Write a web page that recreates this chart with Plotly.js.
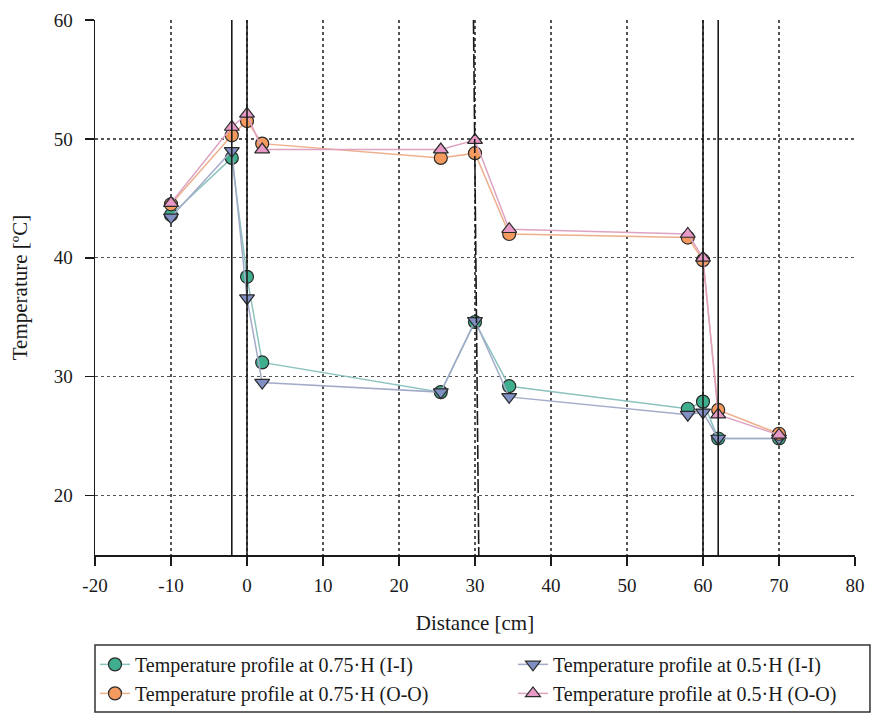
<!DOCTYPE html>
<html>
<head>
<meta charset="utf-8">
<script src="https://cdn.plot.ly/plotly-3.0.1.min.js"></script>
<style>
  html, body { margin: 0; padding: 0; background: #fff; }
  #chart { width: 873px; height: 727px; }
</style>
</head>
<body>
<div id="chart"></div>
<script>
// Measurement positions along the wall section [cm]
const distance = [-10, -2, 0, 2, 25.5, 30, 34.5, 58, 60, 62, 70];

// Temperatures [°C] at each position
const t075_II = [43.6, 48.4, 38.4, 31.2, 28.7, 34.6, 29.2, 27.3, 27.9, 24.8, 24.8];
const t05_II  = [43.4, 49.0, 36.6, 29.5, 28.7, 34.7, 28.3, 26.8, 27.0, 24.8, 24.8];
const t075_OO = [44.5, 50.3, 51.5, 49.6, 48.4, 48.8, 42.0, 41.7, 39.8, 27.2, 25.2];
const t05_OO  = [44.6, 51.0, 52.1, 49.1, 49.1, 49.9, 42.4, 42.0, 40.0, 26.8, 25.1];

const seriesNames = [
  'Temperature profile at 0.75·H (I-I)',
  'Temperature profile at 0.5·H (I-I)',
  'Temperature profile at 0.75·H (O-O)',
  'Temperature profile at 0.5·H (O-O)'
];

// Axis ticks (plain hyphen for negatives)
const xTickVals = [-20, -10, 0, 10, 20, 30, 40, 50, 60, 70, 80];
const xTickText = ['-20', '-10', '0', '10', '20', '30', '40', '50', '60', '70', '80'];
const yTickVals = [20, 30, 40, 50, 60];
const yTickText = ['20', '30', '40', '50', '60'];

// Layer boundaries drawn as solid verticals
const boundaries = [-2, 0, 60, 62];
// Slanted joint line near the middle of the section
const jointX = [29.8, 30.5];

const FONT = 'Liberation Serif';

function trace(y, name, symbol, fill, lineColor, legendId) {
  return {
    x: distance, y: y, name: name, type: 'scatter', mode: 'lines+markers',
    legend: legendId,
    line: { color: lineColor, width: 1.5 },
    marker: { symbol: symbol, size: 13, color: fill, line: { color: '#2a2a2a', width: 1.2 } }
  };
}

const data = [
  trace(t075_II, seriesNames[0], 'circle', '#3fae8e', '#8cc3bf', 'legend'),
  trace(t05_II, seriesNames[1], 'triangle-down', '#8090c4', '#a4abc9', 'legend2'),
  trace(t075_OO, seriesNames[2], 'circle', '#f59a5e', '#eeaf8c', 'legend'),
  trace(t05_OO, seriesNames[3], 'triangle-up', '#e79ac6', '#dea3c2', 'legend2')
];

const shapes = boundaries.map(b => ({
  type: 'line', xref: 'x', yref: 'paper', x0: b, x1: b, y0: 0, y1: 1,
  line: { color: '#1a1a1a', width: 1.6 }
}));
shapes.push({
  type: 'line', xref: 'x', yref: 'paper', x0: jointX[0], x1: jointX[1], y0: 1, y1: 0,
  line: { color: '#1a1a1a', width: 1.6, dash: '14px,3px' }
});
// Frame around the two legend columns
shapes.push({
  type: 'rect', xref: 'paper', yref: 'paper', x0: 0, x1: 1.0197, y0: -0.168, y1: -0.2935,
  line: { color: '#333', width: 1.5 }, fillcolor: 'rgba(0,0,0,0)'
});

const legendBase = {
  orientation: 'v', y: -0.168, xanchor: 'left', yanchor: 'top',
  font: { family: FONT, size: 20, color: '#1a1a1a' },
  bgcolor: 'rgba(0,0,0,0)', borderwidth: 0, tracegroupgap: 0
};

const layout = {
  width: 873, height: 727,
  margin: { l: 95, r: 18, t: 20, b: 172 },
  paper_bgcolor: '#fff', plot_bgcolor: '#fff',
  font: { family: FONT, size: 18, color: '#1a1a1a' },
  showlegend: true,
  legend: Object.assign({}, legendBase, { x: 0 }),
  legend2: Object.assign({}, legendBase, { x: 0.55 }),
  xaxis: {
    range: [-20, 80], tickmode: 'array', tickvals: xTickVals, ticktext: xTickText,
    showline: true, linecolor: '#1a1a1a', linewidth: 1.5,
    ticks: 'outside', ticklen: 9, tickcolor: '#1a1a1a', tickwidth: 1.5,
    ticklabelstandoff: 4,
    showgrid: true, gridcolor: '#555', griddash: 'dot', gridwidth: 1.3,
    zeroline: false,
    tickfont: { family: FONT, size: 19 },
    title: { text: 'Distance [cm]', font: { family: FONT, size: 21 }, standoff: 20 }
  },
  yaxis: {
    range: [15, 60], tickmode: 'array', tickvals: yTickVals, ticktext: yTickText,
    showline: true, linecolor: '#1a1a1a', linewidth: 1.5,
    ticks: 'outside', ticklen: 9, tickcolor: '#1a1a1a', tickwidth: 1.5,
    ticklabelstandoff: 8,
    showgrid: true, gridcolor: '#555', griddash: 'dot', gridwidth: 1.3,
    zeroline: false,
    tickfont: { family: FONT, size: 19 },
    title: { text: 'Temperature [ºC]', font: { family: FONT, size: 21 }, standoff: 20 }
  },
  shapes: shapes
};

Plotly.newPlot('chart', data, layout, { displayModeBar: false, staticPlot: true });
</script>
</body>
</html>
